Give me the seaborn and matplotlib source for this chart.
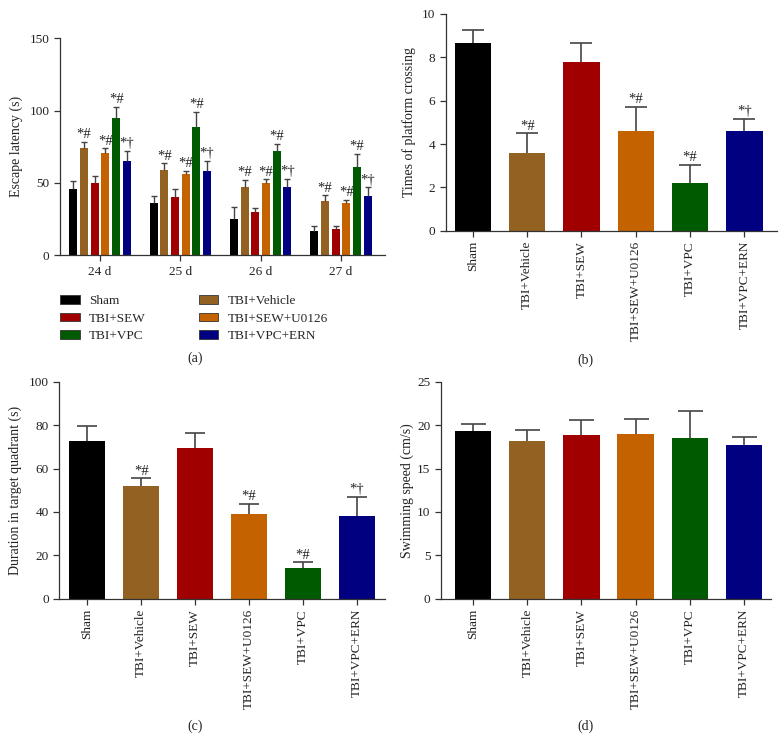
import matplotlib
matplotlib.use("Agg")
import matplotlib.pyplot as plt
import seaborn as sns
import pandas as pd

# groups and colours
groups = ["Sham", "TBI+Vehicle", "TBI+SEW", "TBI+SEW+U0126", "TBI+VPC", "TBI+VPC+ERN"]
colors = ["#000000", "#936222", "#a00000", "#c46200", "#005a00", "#000080"]

# (a) escape latency by day
days = ["24 d", "25 d", "26 d", "27 d"]
latency = {
    "Sham":          [45.5, 36.0, 25.0, 17.0],
    "TBI+Vehicle":   [74.0, 59.0, 47.0, 37.5],
    "TBI+SEW":       [50.0, 40.0, 30.0, 18.5],
    "TBI+SEW+U0126": [71.0, 56.0, 50.0, 36.0],
    "TBI+VPC":       [95.0, 89.0, 72.0, 61.0],
    "TBI+VPC+ERN":   [65.5, 58.0, 47.0, 41.0],
}
latency_err = {
    "Sham":          [6.0, 5.0, 8.5, 3.5],
    "TBI+Vehicle":   [4.5, 4.5, 5.0, 4.0],
    "TBI+SEW":       [4.5, 5.5, 3.0, 2.0],
    "TBI+SEW+U0126": [3.0, 2.5, 2.5, 2.5],
    "TBI+VPC":       [7.5, 10.0, 5.0, 9.0],
    "TBI+VPC+ERN":   [6.5, 7.5, 6.0, 6.0],
}
latency_marks = {"TBI+Vehicle": "*#", "TBI+SEW+U0126": "*#", "TBI+VPC": "*#", "TBI+VPC+ERN": "*\u2020"}

# (b) platform crossings
crossing = [8.68, 3.58, 7.8, 4.58, 2.2, 4.58]
crossing_err = [0.57, 0.91, 0.85, 1.14, 0.85, 0.57]
crossing_marks = ["", "*#", "", "*#", "*#", "*\u2020"]

# (c) duration in target quadrant
duration = [72.8, 51.8, 69.4, 39.0, 14.0, 38.1]
duration_err = [6.9, 3.7, 6.9, 4.8, 2.7, 8.9]
duration_marks = ["", "*#", "", "*#", "*#", "*\u2020"]

# (d) swimming speed
speed = [19.35, 18.16, 18.86, 18.93, 18.51, 17.7]
speed_err = [0.81, 1.23, 1.69, 1.81, 3.09, 0.96]

sns.set_style("ticks")
plt.rcParams["font.family"] = ["Liberation Serif", "DejaVu Serif"]
plt.rcParams["font.size"] = 9.5
plt.rcParams["axes.edgecolor"] = "#333333"
plt.rcParams["xtick.color"] = "#333333"
plt.rcParams["ytick.color"] = "#333333"
plt.rcParams["xtick.labelcolor"] = "#222222"
plt.rcParams["ytick.labelcolor"] = "#222222"
plt.rcParams["axes.labelcolor"] = "#222222"

W, H = 780, 752
fig = plt.figure(figsize=(W / 100, H / 100), dpi=100)


def rect(left, right, top, bottom):
    return [left / W, 1 - bottom / H, (right - left) / W, (bottom - top) / H]


def style_axis(ax):
    sns.despine(ax=ax)
    ax.tick_params(axis="both", direction="out", length=4, width=0.9, labelsize=9.5)
    ax.spines["left"].set_linewidth(0.9)
    ax.spines["bottom"].set_linewidth(0.9)


def add_errors(ax, bars, errs, capsize, lw):
    # upper error only, no cap on the bar top
    for bar, e in zip(bars, errs):
        x = bar.get_x() + bar.get_width() / 2
        y = bar.get_height()
        eb = ax.errorbar(x, y, yerr=[[0], [e]], fmt="none", ecolor="#444444",
                         elinewidth=lw, capsize=capsize, capthick=lw, zorder=1)
        for cap in eb[1]:
            if abs(cap.get_ydata()[0] - y) < 1e-9:
                cap.set_visible(False)


def add_marks(ax, bars, errs, marks, fs):
    for bar, e, m in zip(bars, errs, marks):
        if not m:
            continue
        x = bar.get_x() + bar.get_width() / 2
        ax.annotate(m, (x, bar.get_height() + e), xytext=(0, 0.5),
                    textcoords="offset points", ha="center", va="bottom",
                    fontsize=fs, color="#222222")


# ---- (a)
rows = []
for g in groups:
    for d, v in zip(days, latency[g]):
        rows.append({"day": d, "group": g, "value": v})
df_a = pd.DataFrame(rows)

ax_a = fig.add_axes(rect(60, 385, 38.3, 255.3))
sns.barplot(data=df_a, x="day", y="value", hue="group", hue_order=groups,
            palette=colors, width=0.8, gap=0.25, errorbar=None, ax=ax_a,
            saturation=1, linewidth=0)
for g, cont in zip(groups, ax_a.containers):
    add_errors(ax_a, cont, latency_err[g], 2.5, 1.0)
    if g in latency_marks:
        add_marks(ax_a, cont, latency_err[g], [latency_marks[g]] * len(days), 10.5)
ax_a.set_ylim(0, 150)
ax_a.set_yticks([0, 50, 100, 150])
ax_a.set_xlim(-0.5, 3.55)
ax_a.set_xlabel("")
ax_a.set_ylabel("Escape latency (s)", fontsize=10)
ax_a.yaxis.set_label_coords(-0.115, 0.5)
style_axis(ax_a)

handles, labels = ax_a.get_legend_handles_labels()
order = [0, 2, 4, 1, 3, 5]
if ax_a.get_legend():
    ax_a.get_legend().remove()
leg = ax_a.legend([handles[i] for i in order], [labels[i] for i in order],
                  ncol=2, loc="upper left", bbox_to_anchor=(60 / W, 1 - 295 / H),
                  bbox_transform=fig.transFigure, frameon=False, borderpad=0,
                  borderaxespad=0, handlelength=1.5, handleheight=0.6,
                  handletextpad=0.7, labelspacing=0.42, columnspacing=4.0,
                  fontsize=9.5)
for p in leg.get_patches():
    p.set_edgecolor("#333333")
    p.set_linewidth(0.6)


def single_panel(box, values, errs, marks, ylim, yticks, xlim, ylabel, labx, capsize):
    ax = fig.add_axes(box)
    sns.barplot(x=groups, y=values, hue=groups, palette=colors, width=0.67,
                legend=False, saturation=1, linewidth=0, ax=ax)
    bars = [c[0] for c in ax.containers]
    add_errors(ax, bars, errs, capsize, 1.2)
    add_marks(ax, bars, errs, marks, 10.5)
    ax.set_ylim(*ylim)
    ax.set_yticks(yticks)
    ax.set_xlim(*xlim)
    ax.set_ylabel(ylabel, fontsize=10)
    ax.yaxis.set_label_coords(labx, 0.5)
    ax.tick_params(axis="x", rotation=90)
    style_axis(ax)
    return ax


single_panel(rect(445.7, 777, 14, 230.7), crossing, crossing_err, crossing_marks,
             (0, 10), [0, 2, 4, 6, 8, 10], (-0.5, 5.6),
             "Times of platform crossing", -0.09, 8)
single_panel(rect(59.3, 385, 381.7, 598.7), duration, duration_err, duration_marks,
             (0, 100), [0, 20, 40, 60, 80, 100], (-0.52, 5.52),
             "Duration in target quadrant (s)", -0.115, 7)
single_panel(rect(440.7, 771, 381.7, 598.7), speed, speed_err, [""] * 6,
             (0, 25), [0, 5, 10, 15, 20, 25], (-0.6, 5.5),
             "Swimming speed (cm/s)", -0.08, 9)

for lab, x, y in [("(a)", 195, 358), ("(b)", 585, 360), ("(c)", 195, 726), ("(d)", 585, 726)]:
    fig.text(x / W, 1 - y / H, lab, ha="center", va="center", fontsize=10, color="#222222")

fig.savefig("out.png", dpi=100)
